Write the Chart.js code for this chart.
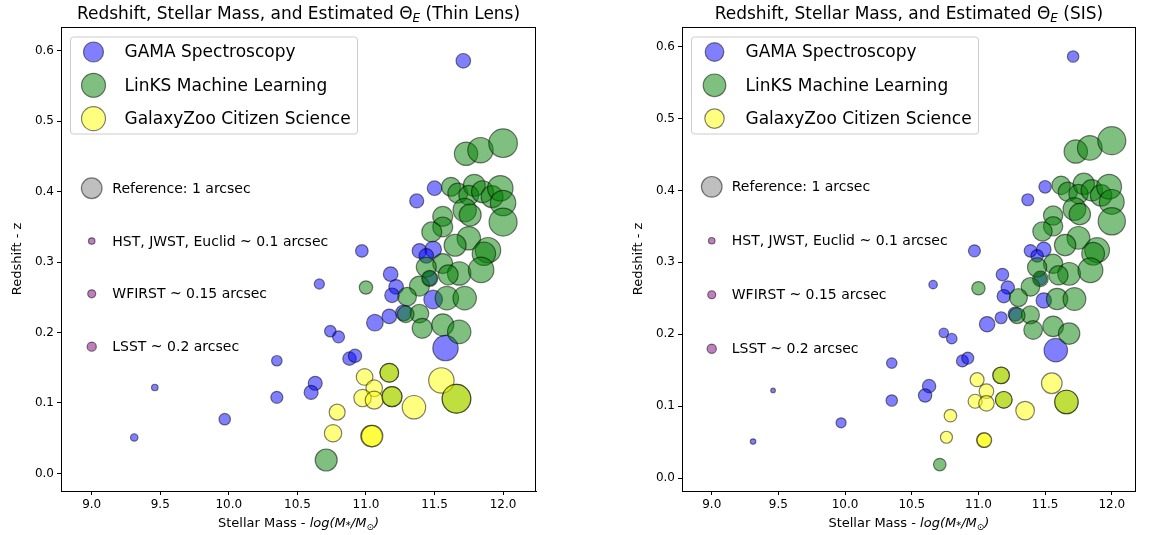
<!DOCTYPE html>
<html>
<head>
<meta charset="utf-8">
<script src="https://cdn.jsdelivr.net/npm/chart.js@4/dist/chart.umd.min.js"></script>
<style>
  html, body { margin:0; padding:0; background:#fff; width:1151px; height:535px; overflow:hidden; }
  .panel { position:absolute; top:0; }
</style>
</head>
<body>
<div class="panel" style="left:0px;"><canvas id="thin" width="560" height="535"></canvas></div>
<div class="panel" style="left:621px;"><canvas id="sis" width="530" height="535"></canvas></div>
<script>
// ---------------- DATA ----------------
const xTicks = [9.0, 9.5, 10.0, 10.5, 11.0, 11.5, 12.0];
const yTicks = [0.0, 0.1, 0.2, 0.3, 0.4, 0.5, 0.6];

// GAMA Spectroscopy: stellar mass (log M*/Msun), redshift z, Einstein radius (arcsec)
const gamaMass = [11.71, 11.50, 11.37, 10.97, 10.66, 11.18, 11.39, 11.49, 11.44, 11.22, 11.19, 11.49, 11.17, 11.275, 11.465, 11.065, 11.58, 10.74, 10.80, 10.88, 10.92, 10.35, 10.35, 10.63, 10.60, 9.46, 9.31, 9.97];
const gamaZ    = [0.586, 0.405, 0.387, 0.316, 0.269, 0.283, 0.316, 0.318, 0.309, 0.265, 0.253, 0.247, 0.223, 0.228, 0.277, 0.214, 0.178, 0.202, 0.194, 0.163, 0.167, 0.160, 0.108, 0.128, 0.115, 0.122, 0.051, 0.077];
const gamaThetaThin = [0.50, 0.50, 0.46, 0.37, 0.24, 0.50, 0.50, 0.65, 0.50, 0.50, 0.50, 0.82, 0.50, 0.60, 0.50, 0.65, 1.52, 0.31, 0.34, 0.42, 0.42, 0.26, 0.34, 0.46, 0.46, 0.10, 0.13, 0.31];
const gamaThetaSIS  = [0.31, 0.37, 0.34, 0.34, 0.17, 0.37, 0.37, 0.50, 0.37, 0.42, 0.42, 0.56, 0.34, 0.46, 0.37, 0.56, 1.29, 0.21, 0.26, 0.34, 0.34, 0.26, 0.31, 0.42, 0.42, 0.05, 0.07, 0.24];

// LinKS Machine Learning
const linksMass = [11.73, 11.835, 12.00, 11.62, 11.67, 11.79, 11.75, 11.85, 11.92, 11.98, 12.00, 12.00, 11.72, 11.76, 11.56, 11.56, 11.48, 11.75, 11.65, 11.89, 11.86, 11.56, 11.44, 11.68, 11.84, 11.60, 11.39, 11.30, 11.59, 11.72, 11.39, 11.29, 11.41, 11.56, 11.68, 11.00, 10.71, 11.17, 11.19, 11.66, 11.465];
const linksZ    = [0.454, 0.459, 0.469, 0.407, 0.398, 0.409, 0.395, 0.400, 0.393, 0.405, 0.384, 0.357, 0.374, 0.367, 0.365, 0.350, 0.343, 0.334, 0.324, 0.317, 0.312, 0.298, 0.293, 0.284, 0.289, 0.282, 0.266, 0.251, 0.249, 0.249, 0.227, 0.226, 0.206, 0.211, 0.201, 0.264, 0.019, 0.143, 0.109, 0.106, 0.277];
const linksThetaThin = [1.29, 1.52, 1.93, 0.85, 0.94, 1.14, 0.94, 1.14, 1.14, 1.52, 1.52, 1.85, 1.29, 1.14, 0.94, 0.94, 0.94, 1.29, 1.14, 1.52, 1.29, 0.94, 0.94, 1.29, 1.52, 0.94, 0.94, 0.82, 1.29, 1.29, 0.82, 0.65, 0.94, 1.14, 1.29, 0.42, 1.14, 0.82, 0.94, 1.93, 0.60];
const linksThetaSIS  = [1.29, 1.43, 1.85, 0.80, 0.88, 1.08, 0.88, 1.08, 1.08, 1.45, 1.45, 1.75, 1.22, 1.08, 0.88, 0.88, 0.88, 1.22, 1.08, 1.45, 1.22, 0.88, 0.88, 1.22, 1.45, 0.88, 0.82, 0.76, 1.08, 1.22, 0.76, 0.60, 0.82, 1.00, 1.08, 0.42, 0.37, 0.65, 0.65, 1.29, 0.56];

// GalaxyZoo Citizen Science
const zooMass = [10.99, 11.06, 10.975, 11.06, 10.79, 10.76, 11.04, 11.045, 11.35, 11.55, 11.17, 11.19, 11.66];
const zooZ    = [0.137, 0.121, 0.107, 0.104, 0.087, 0.057, 0.053, 0.053, 0.094, 0.132, 0.143, 0.109, 0.106];
const zooThetaThin = [0.65, 0.65, 0.71, 0.76, 0.60, 0.71, 1.08, 1.08, 1.29, 1.52, 0.82, 0.94, 1.93];
const zooThetaSIS  = [0.46, 0.50, 0.46, 0.56, 0.37, 0.34, 0.50, 0.50, 0.82, 1.00, 0.65, 0.65, 1.29];

// Size reference markers
const refLabels = ['Reference: 1 arcsec', 'HST, JWST, Euclid ~ 0.1 arcsec', 'WFIRST ~ 0.15 arcsec', 'LSST ~ 0.2 arcsec'];
const refMass  = [9.0, 9.0, 9.0, 9.0];
const refZ     = [0.405, 0.33, 0.255, 0.18];
const refTheta = [1.0, 0.1, 0.15, 0.2];
const refLabelMass = 9.15;

const seriesNames = ['GAMA Spectroscopy', 'LinKS Machine Learning', 'GalaxyZoo Citizen Science'];

// ---------------- STYLE ----------------
const FONT = "'DejaVu Sans', 'Liberation Sans', sans-serif";
const PX_PER_SQRT_ARCSEC = 10.3;
const edge = 'rgba(0,0,0,0.5)';
const fills = ['rgba(0,0,255,0.5)', 'rgba(0,128,0,0.5)', 'rgba(255,255,0,0.5)'];
const refFills = ['rgba(128,128,128,0.5)', 'rgba(128,0,128,0.5)', 'rgba(128,0,128,0.5)', 'rgba(128,0,128,0.5)'];

function bubbles(xs, ys, th) {
  return xs.map((x, i) => ({ x: x, y: ys[i], r: PX_PER_SQRT_ARCSEC * Math.sqrt(th[i]) }));
}

function drawSegments(ctx, segs, cx, baseline) {
  let total = 0;
  segs.forEach(s => { ctx.font = s.f; s.w = ctx.measureText(s.t).width; total += s.w; });
  let x = cx - total / 2;
  ctx.textAlign = 'left';
  ctx.textBaseline = 'alphabetic';
  segs.forEach(s => { ctx.font = s.f; ctx.fillText(s.t, x, baseline + (s.dy || 0)); x += s.w; });
}

const decor = {
  id: 'decor',
  afterDraw(chart, args, opts) {
    const ctx = chart.ctx;
    const a = chart.chartArea;
    const xs = chart.scales.x, ys = chart.scales.y;
    ctx.save();
    // frame
    ctx.strokeStyle = '#000';
    ctx.lineWidth = 1;
    ctx.strokeRect(Math.round(a.left) + 0.5, Math.round(a.top) + 0.5, Math.round(a.right - a.left) - 1, Math.round(a.bottom - a.top));
    ctx.fillStyle = '#000';
    const cx = (a.left + a.right) / 2;
    // title
    drawSegments(ctx, [
      { t: 'Redshift, Stellar Mass, and Estimated \u0398', f: '17px ' + FONT },
      { t: 'E', f: 'italic 12px ' + FONT, dy: 3 },
      { t: ' (' + opts.lens + ')', f: '17px ' + FONT }
    ], cx, 19);
    // x label
    drawSegments(ctx, [
      { t: 'Stellar Mass - ', f: '13px ' + FONT },
      { t: 'log(M', f: 'italic 13px ' + FONT },
      { t: '*', f: '10px ' + FONT, dy: 2 },
      { t: '/M', f: 'italic 13px ' + FONT },
      { t: '\u2299', f: '9px ' + FONT, dy: 3 },
      { t: ')', f: 'italic 13px ' + FONT }
    ], cx, 527);
    // y label
    ctx.save();
    ctx.translate(opts.yLabelX, (a.top + a.bottom) / 2);
    ctx.rotate(-Math.PI / 2);
    ctx.font = '13px ' + FONT;
    ctx.textAlign = 'center';
    ctx.textBaseline = 'middle';
    ctx.fillText('Redshift - z', 0, 0);
    ctx.restore();
    // reference labels
    ctx.font = '14px ' + FONT;
    ctx.textAlign = 'left';
    ctx.textBaseline = 'middle';
    refLabels.forEach((t, i) => {
      ctx.fillText(t, xs.getPixelForValue(refLabelMass), ys.getPixelForValue(refZ[i]) + 1);
    });
    // legend box
    const bx = a.left + 9, by = a.top + 9.5, bw = 287, bh = 97;
    ctx.beginPath();
    ctx.roundRect(bx + 0.5, by + 0.5, bw, bh, 3);
    ctx.fillStyle = 'rgba(255,255,255,0.8)';
    ctx.fill();
    ctx.strokeStyle = '#cccccc';
    ctx.lineWidth = 1;
    ctx.stroke();
    seriesNames.forEach((name, i) => {
      const yy = a.top + 25 + i * 33.3;
      ctx.beginPath();
      ctx.arc(a.left + 32.5, yy, opts.legendR[i], 0, Math.PI * 2);
      ctx.fillStyle = fills[i];
      ctx.fill();
      ctx.strokeStyle = edge;
      ctx.lineWidth = 1.2;
      ctx.stroke();
      ctx.fillStyle = '#000';
      ctx.font = '17px ' + FONT;
      ctx.textAlign = 'left';
      ctx.textBaseline = 'middle';
      ctx.fillText(name, a.left + 63.5, yy + 1);
    });
    ctx.restore();
  }
};

function axis(extra) {
  return Object.assign({
    type: 'linear',
    grid: { display: true, drawOnChartArea: false, drawTicks: true, tickLength: 4, color: '#000', lineWidth: 1 },
    border: { display: true, color: '#000', width: 1 },
    ticks: { color: '#000', font: { family: FONT, size: 12 }, padding: 3, autoSkip: false, maxRotation: 0, callback: v => v.toFixed(1) }
  }, extra);
}

function makeChart(id, p) {
  return new Chart(document.getElementById(id), {
    type: 'bubble',
    data: {
      datasets: [
        { label: seriesNames[2], data: bubbles(zooMass, zooZ, p.zooTheta), backgroundColor: fills[2], borderColor: edge, borderWidth: 1.2, order: 1 },
        { label: seriesNames[1], data: bubbles(linksMass, linksZ, p.linksTheta), backgroundColor: fills[1], borderColor: edge, borderWidth: 1.2, order: 2 },
        { label: seriesNames[0], data: bubbles(gamaMass, gamaZ, p.gamaTheta), backgroundColor: fills[0], borderColor: edge, borderWidth: 1.2, order: 3 },
        { label: 'reference', data: bubbles(refMass, refZ, refTheta), backgroundColor: refFills, borderColor: edge, borderWidth: 1.2, order: 4 }
      ]
    },
    options: {
      responsive: false,
      animation: false,
      events: [],
      layout: { padding: { top: 27, right: p.padRight, left: 0, bottom: 0 } },
      plugins: { legend: { display: false }, tooltip: { enabled: false }, title: { display: false }, decor: p.decor },
      scales: {
        x: axis({ min: p.xMin, max: p.xMax,
          afterBuildTicks: s => { s.ticks = xTicks.map(v => ({ value: v })); },
          afterFit: s => { s.height = 44; } }),
        y: axis({ min: p.yMin, max: p.yMax,
          afterBuildTicks: s => { s.ticks = yTicks.map(v => ({ value: v })); },
          afterFit: s => { s.width = 61; } })
      }
    },
    plugins: [decor]
  });
}

makeChart('thin', {
  gamaTheta: gamaThetaThin, linksTheta: linksThetaThin, zooTheta: zooThetaThin,
  xMin: 8.776, xMax: 12.24, yMin: -0.025, yMax: 0.634, padRight: 24,
  decor: { lens: 'Thin Lens', yLabelX: 18, legendR: [10, 12, 12] }
});
makeChart('sis', {
  gamaTheta: gamaThetaSIS, linksTheta: linksThetaSIS, zooTheta: zooThetaSIS,
  xMin: 8.777, xMax: 12.18, yMin: -0.0177, yMax: 0.627, padRight: 1,
  decor: { lens: 'SIS', yLabelX: 18, legendR: [9.3, 11.3, 9.7] }
});
</script>
</body>
</html>
